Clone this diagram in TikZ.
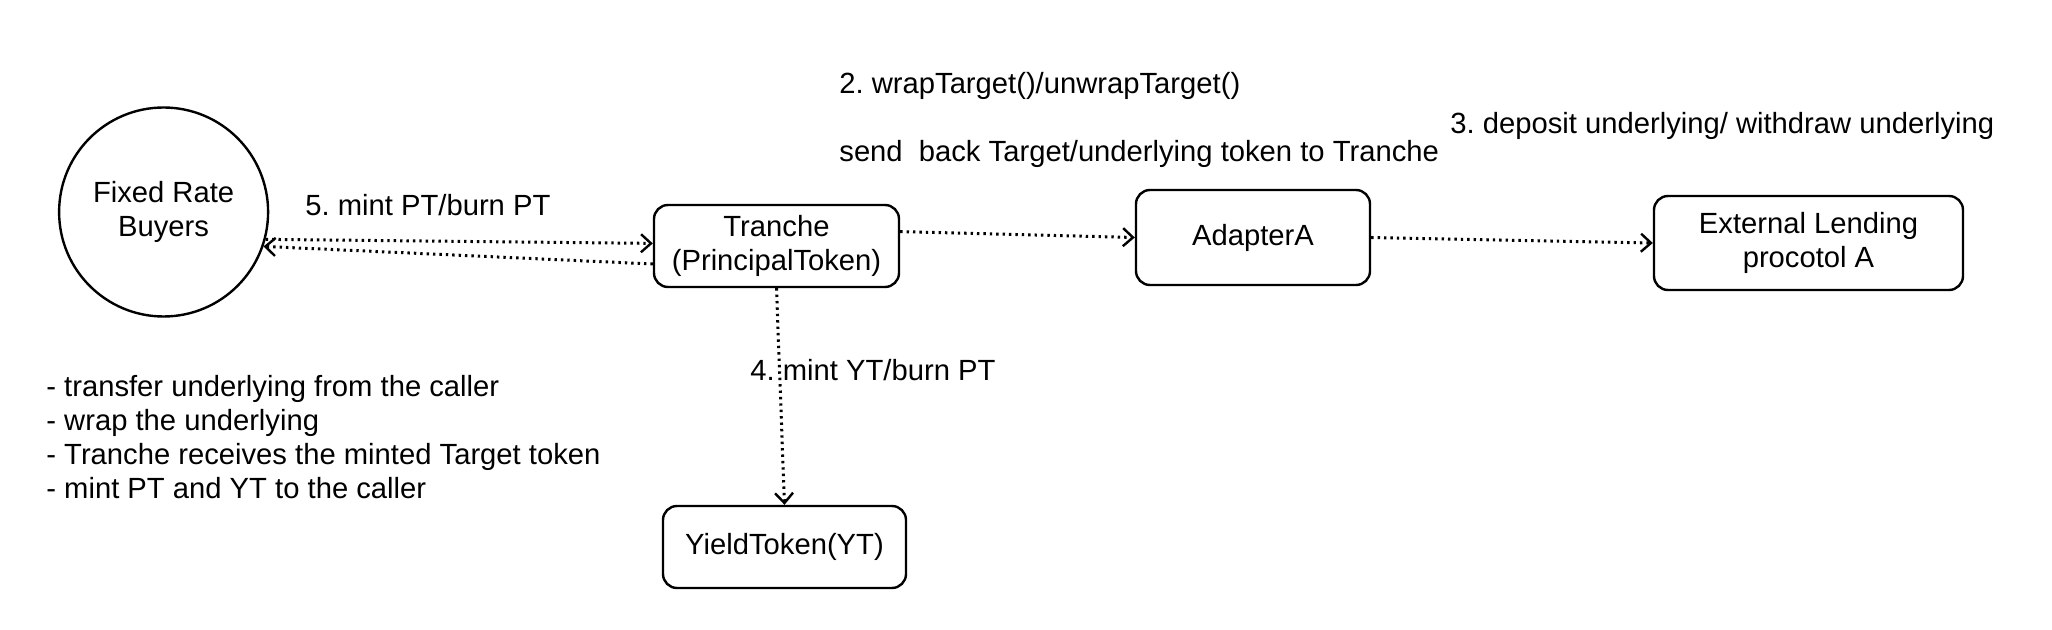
\documentclass[tikz,border=0pt]{standalone}
\usepackage{fontspec}
\setmainfont{Liberation Sans}
\usetikzlibrary{arrows.meta}
\frenchspacing
\tikzset{
  box/.style={draw, line width=1.2pt, rounded corners=7pt, align=center, inner sep=0pt},
  flow/.style={line width=1.5pt, dash pattern=on 1.2pt off 2pt,
    -{Straight Barb[length=5pt, width=9pt, line width=1.2pt]}},
  lbl/.style={anchor=west, inner sep=0pt}
}
\begin{document}
\begin{tikzpicture}[x=0.5pt, y=-0.5pt, font=\fontsize{14.6}{17}\selectfont]
          \useasboundingbox (0,0) rectangle (2052,630);
          \node[draw, circle, line width=1.2pt, minimum size=104.5pt, align=center, inner sep=0pt] (buyers) at (163.6,212) {Fixed Rate\\Buyers};
          \node[box, minimum width=122.5pt, minimum height=41pt] (tranche) at (776.5,246) {Tranche\\(PrincipalToken)};
          \node[box, minimum width=117pt, minimum height=47.5pt] (adapter) at (1253,237.5) {AdapterA};
          \node[box, minimum width=154.5pt, minimum height=47pt] (lending) at (1808.5,243) {External Lending\\procotol A};
          \node[box, minimum width=121.5pt, minimum height=41pt] (yt) at (784.5,547) {YieldToken(YT)};

          \draw [flow] (buyers.-15) -- ([yshift=1.3pt]tranche.west);
          \draw [flow] ([yshift=-9pt]tranche.west) -- (buyers.-19);
          \draw [flow] ([yshift=7.2pt]tranche.east) -- (adapter.west);
          \draw [flow] (adapter.east) -- (lending.west);
          \draw [flow] (tranche.south) -- (yt.north);

          \node[lbl] (wrap) at (839,86) {2. wrapTarget()/unwrapTarget()};
          \node[lbl] (sendback) at (839,154) {send\ \ back Target/underlying token to Tranche};
          \node[lbl] (deposit) at (1450,126) {3. deposit underlying/ withdraw underlying};
          \node[lbl] (mintpt) at (305,205) {5. mint PT/burn PT};
          \node[lbl] (mintyt) at (750,370) {4. mint YT/burn PT};
          \node[lbl, align=left] (steps) at (46,437) {- transfer underlying from the caller\\- wrap the underlying\\- Tranche receives the minted Target token\\- mint PT and YT to the caller};
      \end{tikzpicture}
\end{document}
